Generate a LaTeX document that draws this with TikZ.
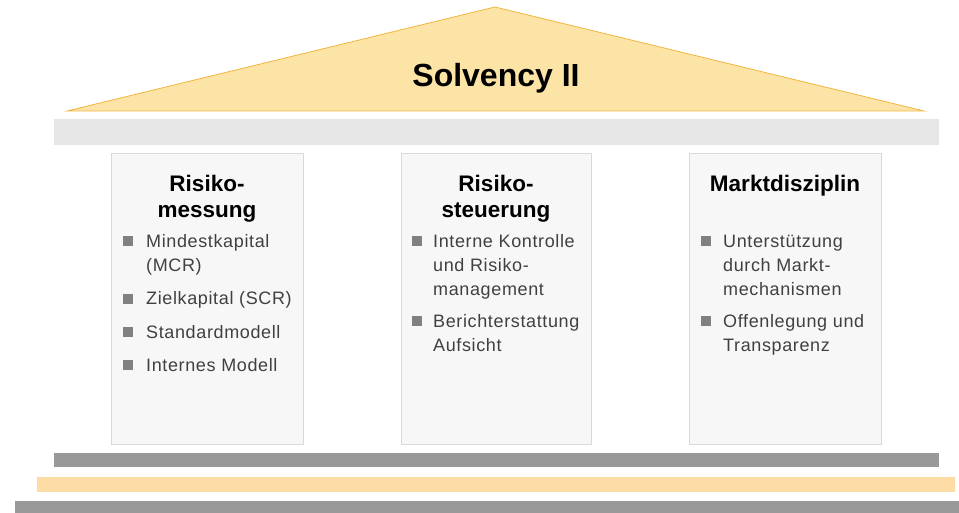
\documentclass[tikz,border=0pt]{standalone}
\usepackage{fontspec}
\setmainfont{Liberation Sans}
\newfontfamily\itemfont[LetterSpace=3.5]{Liberation Sans}
\definecolor{roofyellow}{HTML}{FCE4A6}
\definecolor{roofline}{HTML}{F2B441}
\definecolor{beamgray}{HTML}{E6E6E6}
\definecolor{pillarfill}{HTML}{F7F7F7}
\definecolor{pillarline}{HTML}{D9D9D9}
\definecolor{stepgray}{HTML}{999999}
\definecolor{steporange}{HTML}{FDDCA5}
\definecolor{bulletgray}{HTML}{808080}
\definecolor{itemtext}{HTML}{404040}

\begin{document}
\begin{tikzpicture}[x=1pt,y=-1pt,
    pillar/.style={draw=pillarline, fill=pillarfill, line width=0.6pt},
    colhead/.style={font=\fontsize{22.5}{26}\selectfont\bfseries, align=center, anchor=base, inner sep=0pt},
    item/.style={font=\itemfont\fontsize{18}{24.5}\selectfont, align=left, anchor=base west, inner sep=0pt, text=itemtext},
    bullet/.style={fill=bulletgray, minimum size=9.5pt, inner sep=0pt}]
        \useasboundingbox (0,0) rectangle (959,513);

        % roof and beam
        \filldraw [fill=roofyellow, draw=roofline, line width=0.8pt] (67,111) -- (495,7) -- (924,111) -- cycle;
        \node [font=\fontsize{32}{36}\selectfont\bfseries, anchor=base] (title) at (496,87) {Solvency II};
        \fill [beamgray] (54,119) rectangle (939,145);

        % pillars
        \draw [pillar] (111,153) rectangle (303,444);
        \draw [pillar] (401,153) rectangle (591,444);
        \draw [pillar] (689,153) rectangle (881,444);

        % steps
        \fill [stepgray] (54,453) rectangle (939,467);
        \fill [steporange] (37,477) rectangle (955,492);
        \fill [stepgray] (15,501) rectangle (959,513);

        % Risikomessung (base = last line)
        \node [colhead] (head1) at (207,218) {Risiko-\\messung};
        \node [bullet] (b11) at (128,241) {};
        \node [item] (i11) at (146,271.5) {Mindestkapital\\(MCR)};
        \node [bullet] (b12) at (128,299) {};
        \node [item] (i12) at (146,305) {Zielkapital (SCR)};
        \node [bullet] (b13) at (128,332) {};
        \node [item] (i13) at (146,338) {Standardmodell};
        \node [bullet] (b14) at (128,365) {};
        \node [item] (i14) at (146,371) {Internes Modell};

        % Risikosteuerung
        \node [colhead] (head2) at (496,218) {Risiko-\\steuerung};
        \node [bullet] (b21) at (417,241) {};
        \node [item] (i21) at (433,296) {Interne Kontrolle\\und Risiko-\\management};
        \node [bullet] (b22) at (417,321) {};
        \node [item] (i22) at (433,351.5) {Berichterstattung\\Aufsicht};

        % Marktdisziplin
        \node [colhead] (head3) at (785,192) {Marktdisziplin};
        \node [bullet] (b31) at (706,241) {};
        \node [item] (i31) at (723,296) {Unterstützung\\durch Markt-\\mechanismen};
        \node [bullet] (b32) at (706,321) {};
        \node [item] (i32) at (723,351.5) {Offenlegung und\\Transparenz};
\end{tikzpicture}
\end{document}
